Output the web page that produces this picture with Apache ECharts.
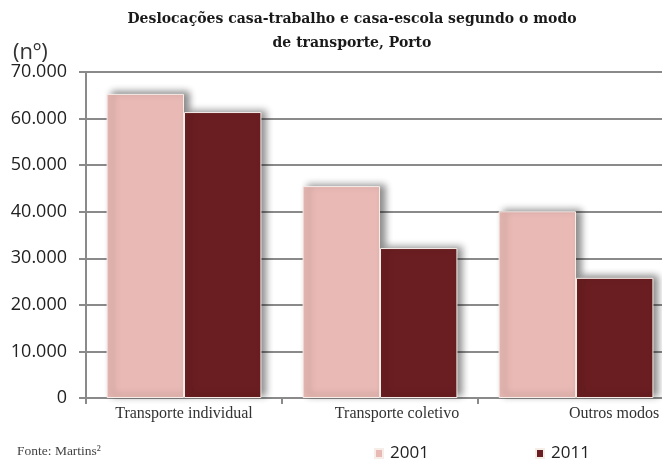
<!DOCTYPE html>
<html>
<head>
<meta charset="utf-8">
<script src="https://cdn.jsdelivr.net/npm/echarts@6/dist/echarts.min.js"></script>
<style>
  html, body { margin: 0; padding: 0; background: #fff; }
  #chart { width: 662px; height: 460px; }
</style>
</head>
<body>
<div id="chart"></div>
<script>
// Deslocações casa-trabalho e casa-escola por modo de transporte (Porto)
const categories = ['Transporte individual', 'Transporte coletivo', 'Outros modos'];
const values2001 = [65300, 45500, 40100];
const values2011 = [61400, 32200, 25800];
const yTicks = { min: 0, max: 70000, step: 10000 };

// label nudges (px) so the later category names sit right of centre
const labelShift = [0, 34, 76];

const fmtThousands = v => String(v).replace(/\B(?=(\d{3})+(?!\d))/g, '.');

const barStyle = color => ({
  color: color,
  borderColor: '#f6ede8',
  borderWidth: 1,
  shadowBlur: 7,
  shadowOffsetX: 5,
  shadowOffsetY: -2,
  shadowColor: 'rgba(0,0,0,0.45)'
});

const legendText = { fontFamily: 'Open Sans', fontSize: 17, color: '#222', padding: [0, 0, 0, 2] };

const chart = echarts.init(document.getElementById('chart'));
chart.setOption({
  animation: false,
  backgroundColor: '#ffffff',
  graphic: [
    {
      type: 'text', x: 352, y: 7,
      style: {
        text: 'Deslocações casa-trabalho e casa-escola segundo o modo\nde transporte, Porto',
        font: 'bold 14px "DejaVu Serif", serif',
        fill: '#1a1a1a', textAlign: 'center', lineHeight: 24
      }
    },
    {
      type: 'text', x: 13, y: 42,
      style: { text: '(nº)', font: '22px "Open Sans", sans-serif', fill: '#333' }
    },
    {
      type: 'text', x: 17, y: 444,
      style: { text: 'Fonte: Martins²', font: '13.5px "Liberation Serif", serif', fill: '#444' }
    }
  ],
  legend: [
    {
      data: ['2001'], left: 374, top: 445, padding: 0,
      itemWidth: 8, itemHeight: 9, itemGap: 0, icon: 'rect', textStyle: legendText
    },
    {
      data: ['2011'], left: 535, top: 445, padding: 0,
      itemWidth: 8, itemHeight: 9, itemGap: 0, icon: 'rect', textStyle: legendText
    }
  ],
  grid: {
    left: 86, width: 588, top: 72, height: 326,
    containLabel: false, outerBoundsMode: 'none'
  },
  xAxis: {
    type: 'category',
    data: categories.map((c, i) => labelShift[i]
      ? { value: c, textStyle: { padding: [0, 0, 0, labelShift[i]] } }
      : c),
    axisLine: { lineStyle: { color: '#8a8a8a', width: 2 } },
    axisTick: { show: true, length: 6, lineStyle: { color: '#8a8a8a', width: 2 } },
    axisLabel: {
      margin: 8, fontFamily: 'Liberation Serif', fontSize: 16, color: '#333',
      interval: 0
    }
  },
  yAxis: {
    type: 'value',
    min: yTicks.min, max: yTicks.max, interval: yTicks.step,
    axisLine: { show: true, lineStyle: { color: '#8a8a8a', width: 2 } },
    axisTick: { show: true, length: 7, lineStyle: { color: '#8a8a8a', width: 2 } },
    splitLine: { lineStyle: { color: '#8a8a8a', width: 2 } },
    axisLabel: {
      margin: 19, fontFamily: 'Open Sans', fontSize: 18, color: '#222',
      formatter: v => fmtThousands(v)
    }
  },
  series: [
    {
      name: '2001', type: 'bar', data: values2001,
      barWidth: '39.5%', barGap: '0%', barCategoryGap: '21%',
      itemStyle: barStyle('#e9b9b5')
    },
    {
      name: '2011', type: 'bar', data: values2011,
      barWidth: '39.5%', barGap: '0%',
      itemStyle: barStyle('#6b1e21')
    }
  ]
});
</script>
</body>
</html>
